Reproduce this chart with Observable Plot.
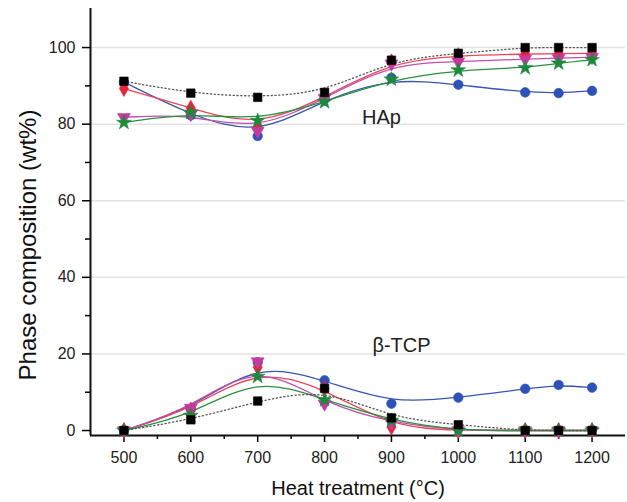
<!DOCTYPE html>
<html>
<head>
<meta charset="utf-8">
<script src="https://cdn.jsdelivr.net/npm/d3@7"></script>
<script src="https://cdn.jsdelivr.net/npm/@observablehq/plot@0.6"></script>
<style>
  html, body { margin: 0; padding: 0; background: #fff; }
  #chart svg { display: block; }
</style>
</head>
<body>
<div id="chart"></div>
<script>
// Heat-treatment temperatures (°C)
const temps = [500, 600, 700, 800, 900, 1000, 1100, 1150, 1200];

// HAp content (wt%) for each sample series
const hapSquare   = [91.2, 88.1, 87.0, 88.3, 96.7, 98.5, 100.0, 100.0, 100.0];
const hapCircle   = [91.0, 82.3, 76.9, 86.5, 92.1, 90.3, 88.3, 88.1, 88.7];
const hapDiamond  = [89.3, 84.2, 79.2, 87.0, 96.3, 97.9, 98.3, 98.4, 98.5];
const hapTriangle = [81.8, 82.6, 78.2, 86.8, 95.8, 96.3, 97.0, 97.2, 97.5];
const hapStar     = [80.4, 83.0, 80.9, 85.8, 91.7, 94.1, 94.7, 95.9, 96.8];

// β-TCP content (wt%) for each sample series
const tcpSquare   = [0, 2.8, 7.7, 11.0, 3.3, 1.5, 0, 0, 0];
const tcpCircle   = [0, 5.6, 17.8, 13.1, 7.0, 8.6, 10.9, 11.9, 11.2];
const tcpDiamond  = [0, 5.4, 16.5, 10.9, 0.9, 0, 0, 0, 0];
const tcpTriangle = [0, 5.9, 18.0, 7.0, 2.0, 0, 0, 0, 0];
const tcpStar     = [0, 3.9, 14.1, 8.0, 2.6, 0, 0, 0, 0];

// Axis ticks and labels
const xTicks = [500, 600, 700, 800, 900, 1000, 1100, 1200];
const xMinor = [550, 650, 750, 850, 950, 1050, 1150];
const yTicks = [0, 20, 40, 60, 80, 100];
const yMinor = [10, 30, 50, 70, 90];
const yGrid = [20, 40, 60, 80, 100];
const xDomain = [450, 1250];
const yDomain = [-1.3, 110.2];
const xTitle = "Heat treatment (°C)";
const yTitle = "Phase composition (wt%)";

// Phase annotations
const phaseNames = ["HAp", "β-TCP"];
const phaseX = [885, 915];
const phaseY = [81.8, 22.2];

// Series styling (drawing order: first is at the bottom)
const series = [
  {key: "circle",   symbol: "circle",   color: "#2f52b8", line: "#3a55b0", dash: null,      rotate: 0,   hap: hapCircle,   tcp: tcpCircle},
  {key: "diamond",  symbol: "diamond",  color: "#e8223c", line: "#e8485a", dash: null,      rotate: 0,   hap: hapDiamond,  tcp: tcpDiamond},
  {key: "triangle", symbol: "triangle", color: "#c43a9e", line: "#c050b0", dash: null,      rotate: 180, hap: hapTriangle, tcp: tcpTriangle},
  {key: "star",     symbol: "star",     color: "#1b8a3a", line: "#2a9040", dash: null,      rotate: 0,   hap: hapStar,     tcp: tcpStar},
  {key: "square",   symbol: "square",   color: "#000000", line: "#555555", dash: "1.2,2.6", rotate: 0,   hap: hapSquare,   tcp: tcpSquare}
];

const rows = [];
for (const s of series) {
  for (const phase of ["hap", "tcp"]) {
    temps.forEach((t, i) => rows.push({series: s.key, phase, temp: t, value: s[phase][i]}));
  }
}

const font = "'Liberation Sans', Arial, sans-serif";

const lineMarks = series.flatMap(s => ["hap", "tcp"].map(phase =>
  Plot.line(rows.filter(d => d.series === s.key && d.phase === phase), {
    x: "temp", y: "value", curve: "basis",
    stroke: s.line, strokeWidth: 1.3,
    strokeDasharray: s.dash
  })
));

const dotMarks = series.map(s =>
  Plot.dot(rows.filter(d => d.series === s.key), {
    x: "temp", y: "value",
    symbol: () => s.symbol, r: s.symbol === "star" ? 4.6 : 4.8,
    fill: s.color, stroke: s.color, strokeWidth: 0.6,
    rotate: s.rotate
  })
);

const annotations = phaseNames.map((name, i) => ({name, x: phaseX[i], y: phaseY[i]}));

const chart = Plot.plot({
  width: 627,
  height: 502,
  marginLeft: 90,
  marginRight: 2,
  marginTop: 8,
  marginBottom: 67,
  style: {fontFamily: font, background: "#fff", overflow: "visible"},
  x: {domain: xDomain},
  y: {domain: yDomain},
  symbol: {type: "identity"},
  marks: [
    Plot.ruleY(yGrid, {stroke: "#e2e2e2", strokeWidth: 1.5}),
    Plot.axisX({ticks: xTicks, tickFormat: d => String(d), tickSize: 7, tickPadding: 9, fontSize: 16, fill: "#222", label: null, strokeWidth: 1.5}),
    Plot.axisX({ticks: xMinor, tickSize: 4, tickFormat: () => "", label: null, strokeWidth: 1.5}),
    Plot.axisY({ticks: yTicks, tickFormat: d => String(d), tickSize: 8, tickPadding: 7, fontSize: 16, fill: "#222", label: null, strokeWidth: 1.5}),
    Plot.axisY({ticks: yMinor, tickSize: 5, tickFormat: () => "", label: null, strokeWidth: 1.5}),
    Plot.ruleX([xDomain[0]], {stroke: "#111", strokeWidth: 2}),
    Plot.ruleY([yDomain[0]], {stroke: "#111", strokeWidth: 2}),
    ...lineMarks,
    ...dotMarks,
    Plot.text(annotations, {x: "x", y: "y", text: "name", fontSize: 20, fill: "#222"}),
    Plot.text([xTitle], {text: d => d, frameAnchor: "bottom", textAnchor: "middle", lineAnchor: "middle", dy: 53, fontSize: 20, fill: "#111"}),
    Plot.text([yTitle], {text: d => d, frameAnchor: "left", textAnchor: "middle", lineAnchor: "middle", dx: -62, dy: 23, rotate: -90, fontSize: 24, fill: "#111"})
  ]
});

document.getElementById("chart").appendChild(chart);
</script>
</body>
</html>
